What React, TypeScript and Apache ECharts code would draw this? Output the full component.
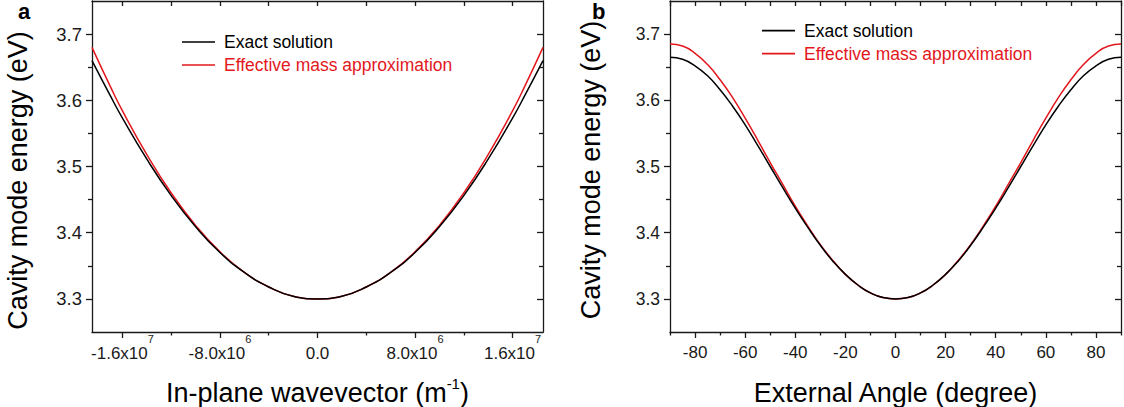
import React, { useEffect, useRef } from 'react';
import * as echarts from 'echarts';

const FONT = "'Liberation Sans', Arial, Helvetica, sans-serif";
const INK = '#1a1a1a';
const RED = '#e3171d';

// ---------- Panel a: energy vs in-plane wavevector ----------
const wavevector = [-1.85e7, -1.7e7, -1.6e7, -1.4e7, -1.2e7, -1.0e7, -8e6, -6e6, -4e6, -2e6, 0, 2e6, 4e6, 6e6, 8e6, 1.0e7, 1.2e7, 1.4e7, 1.6e7, 1.7e7, 1.85e7];
const exactA = [3.660, 3.607, 3.573, 3.511, 3.456, 3.409, 3.370, 3.340, 3.318, 3.304, 3.300, 3.304, 3.318, 3.340, 3.370, 3.409, 3.456, 3.511, 3.573, 3.607, 3.660];
const effA = [3.680, 3.621, 3.584, 3.518, 3.460, 3.411, 3.371, 3.340, 3.318, 3.304, 3.300, 3.304, 3.318, 3.340, 3.371, 3.411, 3.460, 3.518, 3.584, 3.621, 3.680];
const xMajorA = [-1.6e7, -8e6, 0, 8e6, 1.6e7];
const xMinorA = [-1.2e7, -4e6, 4e6, 1.2e7];
const xLabelsA = ['-1.6x10^7', '-8.0x10^6', '0.0', '8.0x10^6', '1.6x10^7'];

// ---------- Panel b: energy vs external angle ----------
const angles = [-90, -85, -80, -75, -70, -65, -60, -55, -50, -45, -40, -35, -30, -25, -20, -15, -10, -5, 0, 5, 10, 15, 20, 25, 30, 35, 40, 45, 50, 55, 60, 65, 70, 75, 80, 85, 90];
const exactB = [3.665, 3.662, 3.652, 3.637, 3.616, 3.591, 3.563, 3.532, 3.500, 3.468, 3.437, 3.408, 3.381, 3.357, 3.337, 3.321, 3.309, 3.302, 3.300, 3.302, 3.309, 3.321, 3.337, 3.357, 3.381, 3.408, 3.437, 3.468, 3.500, 3.532, 3.563, 3.591, 3.616, 3.637, 3.652, 3.662, 3.665];
const effB = [3.685, 3.682, 3.671, 3.654, 3.631, 3.604, 3.573, 3.540, 3.506, 3.473, 3.440, 3.410, 3.382, 3.358, 3.337, 3.321, 3.309, 3.302, 3.300, 3.302, 3.309, 3.321, 3.337, 3.358, 3.382, 3.410, 3.440, 3.473, 3.506, 3.540, 3.573, 3.604, 3.631, 3.654, 3.671, 3.682, 3.685];
const xMajorB = [-80, -60, -40, -20, 0, 20, 40, 60, 80];
const xMinorB = [-90, -70, -50, -30, -10, 10, 30, 50, 70, 90];
const xLabelsB = ['-80', '-60', '-40', '-20', '0', '20', '40', '60', '80'];

// ---------- shared energy axis ----------
const yMajor = [3.3, 3.4, 3.5, 3.6, 3.7];
const yMinor = [3.35, 3.45, 3.55, 3.65];
const yLabels = ['3.3', '3.4', '3.5', '3.6', '3.7'];

const seriesNames = ['Exact solution', 'Effective mass approximation'];
const yTitle = 'Cavity mode energy (eV)';
const xTitleA = 'In-plane wavevector (m^-1)';
const xTitleB = 'External Angle (degree)';

const lineStyle = { color: INK, width: 1.3 };

// "text^sup" -> rich text; a label without "^" uses the `plain` style
function toRich(s: string, base: string, sup: string, plain: string) {
  const i = s.indexOf('^');
  if (i < 0) return `{${plain}|${s}}`;
  const rest = s.slice(i + 1);
  const m = rest.match(/^(-?\d+)(.*)$/);
  const supTxt = m ? m[1] : rest;
  const tail = m ? m[2] : '';
  return `{${base}|${s.slice(0, i)}}{${sup}|${supTxt}}` + (tail ? `{${base}|${tail}}` : '');
}

function labelFor(values: number[], labels: string[]) {
  return (v: number) => {
    const idx = values.findIndex((t) => Math.abs(t - v) <= Math.abs(t) * 1e-9 + 1e-9);
    return idx >= 0 ? labels[idx] : '';
  };
}

const tickRich = {
  b: { fontSize: 17, lineHeight: 18, verticalAlign: 'bottom', color: INK, fontFamily: FONT },
  s: { fontSize: 11, lineHeight: 29, verticalAlign: 'top', color: INK, fontFamily: FONT },
  z: { fontSize: 17, lineHeight: 29, verticalAlign: 'bottom', color: INK, fontFamily: FONT },
  p: { fontSize: 17, lineHeight: 18, verticalAlign: 'bottom', color: INK, fontFamily: FONT },
};
const nameRich = {
  n: { fontSize: 27, lineHeight: 30, verticalAlign: 'bottom', color: '#000', fontFamily: FONT },
  s: { fontSize: 15, lineHeight: 30, verticalAlign: 'top', color: '#000', fontFamily: FONT },
};

function xAxesFor(gridIndex: number, min: number, max: number, major: number[], minor: number[], fmt: (v: number) => string, name: string, margin: number) {
  return [
    {
      type: 'value', gridIndex, position: 'bottom', min, max,
      axisLine: { show: true, onZero: false, lineStyle },
      axisTick: { show: true, inside: false, length: 6, customValues: major, lineStyle },
      axisLabel: { show: true, customValues: major, formatter: fmt, margin, rich: tickRich, color: INK, fontSize: 17, fontFamily: FONT },
      splitLine: { show: false },
      name, nameLocation: 'middle', nameGap: 44,
      nameTextStyle: { rich: nameRich, fontSize: 27, fontFamily: FONT, color: '#000' },
    },
    {
      type: 'value', gridIndex, position: 'bottom', min, max,
      axisLine: { show: false, onZero: false },
      axisTick: { show: true, inside: false, length: 3.5, customValues: minor, lineStyle },
      axisLabel: { show: false }, splitLine: { show: false },
    },
    {
      type: 'value', gridIndex, position: 'top', min, max,
      axisLine: { show: true, onZero: false, lineStyle },
      axisTick: { show: true, inside: true, length: 5, customValues: major, lineStyle },
      axisLabel: { show: false }, splitLine: { show: false },
    },
    {
      type: 'value', gridIndex, position: 'top', min, max,
      axisLine: { show: false, onZero: false },
      axisTick: { show: true, inside: true, length: 5, customValues: minor, lineStyle },
      axisLabel: { show: false }, splitLine: { show: false },
    },
  ];
}

function yAxesFor(gridIndex: number, nameGap: number, namePad: number[], labelSize: number) {
  const min = 3.25, max = 3.75;
  return [
    {
      type: 'value', gridIndex, position: 'left', min, max,
      axisLine: { show: true, onZero: false, lineStyle },
      axisTick: { show: true, inside: false, length: 6, customValues: yMajor, lineStyle },
      axisLabel: { show: true, customValues: yMajor, formatter: labelFor(yMajor, yLabels), margin: 10, color: INK, fontSize: labelSize, fontFamily: FONT },
      splitLine: { show: false },
      name: yTitle, nameLocation: 'middle', nameGap,
      nameTextStyle: { fontSize: 27, lineHeight: 32, fontFamily: FONT, color: '#000', padding: namePad },
    },
    {
      type: 'value', gridIndex, position: 'left', min, max,
      axisLine: { show: false, onZero: false },
      axisTick: { show: true, inside: false, length: 4, customValues: yMinor, lineStyle },
      axisLabel: { show: false }, splitLine: { show: false },
    },
    {
      type: 'value', gridIndex, position: 'right', min, max,
      axisLine: { show: true, onZero: false, lineStyle },
      axisTick: { show: true, inside: true, length: 6, customValues: yMajor, lineStyle },
      axisLabel: { show: false }, splitLine: { show: false },
    },
    {
      type: 'value', gridIndex, position: 'right', min, max,
      axisLine: { show: false, onZero: false },
      axisTick: { show: true, inside: true, length: 4, customValues: yMinor, lineStyle },
      axisLabel: { show: false }, splitLine: { show: false },
    },
  ];
}

function legendFor(left: number, top: number) {
  return {
    orient: 'vertical', left, top, padding: 0, icon: 'rect', itemWidth: 33, itemHeight: 1.6, itemGap: 3,
    selectedMode: false,
    textStyle: { fontSize: 17.5, lineHeight: 20, fontFamily: FONT, padding: [0, 0, 0, 4] },
    data: [
      { name: seriesNames[0], textStyle: { color: '#000' } },
      { name: seriesNames[1], textStyle: { color: RED } },
    ],
  };
}

export default function App() {
  const ref = useRef<HTMLDivElement>(null);
  useEffect(() => {
    if (!ref.current) return;
    const chart = echarts.init(ref.current, undefined, { renderer: 'svg' });
    const fmtA = (v: number) => toRich(labelFor(xMajorA, xLabelsA)(v), 'b', 's', 'z');
    const fmtB = (v: number) => toRich(labelFor(xMajorB, xLabelsB)(v), 'b', 's', 'p');
    const line = (name: string, data: number[][], color: string, xi: number, yi: number) => ({
      type: 'line', name, data, xAxisIndex: xi, yAxisIndex: yi, showSymbol: false, symbol: 'none',
      smooth: true, lineStyle: { color, width: 1.5 }, itemStyle: { color }, z: name === seriesNames[0] ? 3 : 2,
    });
    chart.setOption({
      animation: false,
      textStyle: { fontFamily: FONT },
      grid: [
        { left: 92, top: 1, width: 451, height: 331, containLabel: false, outerBoundsMode: 'none' },
        { left: 670, top: 1, width: 451, height: 331, containLabel: false, outerBoundsMode: 'none' },
      ],
      xAxis: [
        ...xAxesFor(0, -1.85e7, 1.85e7, xMajorA, xMinorA, fmtA, toRich(xTitleA, 'n', 's', 'n'), 1),
        ...xAxesFor(1, -90, 90, xMajorB, xMinorB, fmtB, toRich(xTitleB, 'n', 's', 'n'), 11),
      ],
      yAxis: [...yAxesFor(0, 58, [0, 28, 0, 0], 18.5), ...yAxesFor(1, 63, [0, 7, 0, 0], 17.5)],
      legend: [legendFor(182, 32), legendFor(762, 20.6)],
      graphic: [
        { type: 'text', x: 18, y: 0, style: { text: 'a', font: `bold 22px ${FONT}`, fill: '#000', verticalAlign: 'top' } },
        { type: 'text', x: 592, y: 0, style: { text: 'b', font: `bold 22px ${FONT}`, fill: '#000', verticalAlign: 'top' } },
      ],
      series: [
        line(seriesNames[1], wavevector.map((k, i) => [k, effA[i]]), RED, 0, 0),
        line(seriesNames[0], wavevector.map((k, i) => [k, exactA[i]]), '#000', 0, 0),
        line(seriesNames[1], angles.map((a, i) => [a, effB[i]]), RED, 4, 4),
        line(seriesNames[0], angles.map((a, i) => [a, exactB[i]]), '#000', 4, 4),
      ],
    });
    return () => chart.dispose();
  }, []);
  return <div ref={ref} style={{ position: 'fixed', left: 0, top: 0, width: 1124, height: 407, background: '#fff' }} />;
}
